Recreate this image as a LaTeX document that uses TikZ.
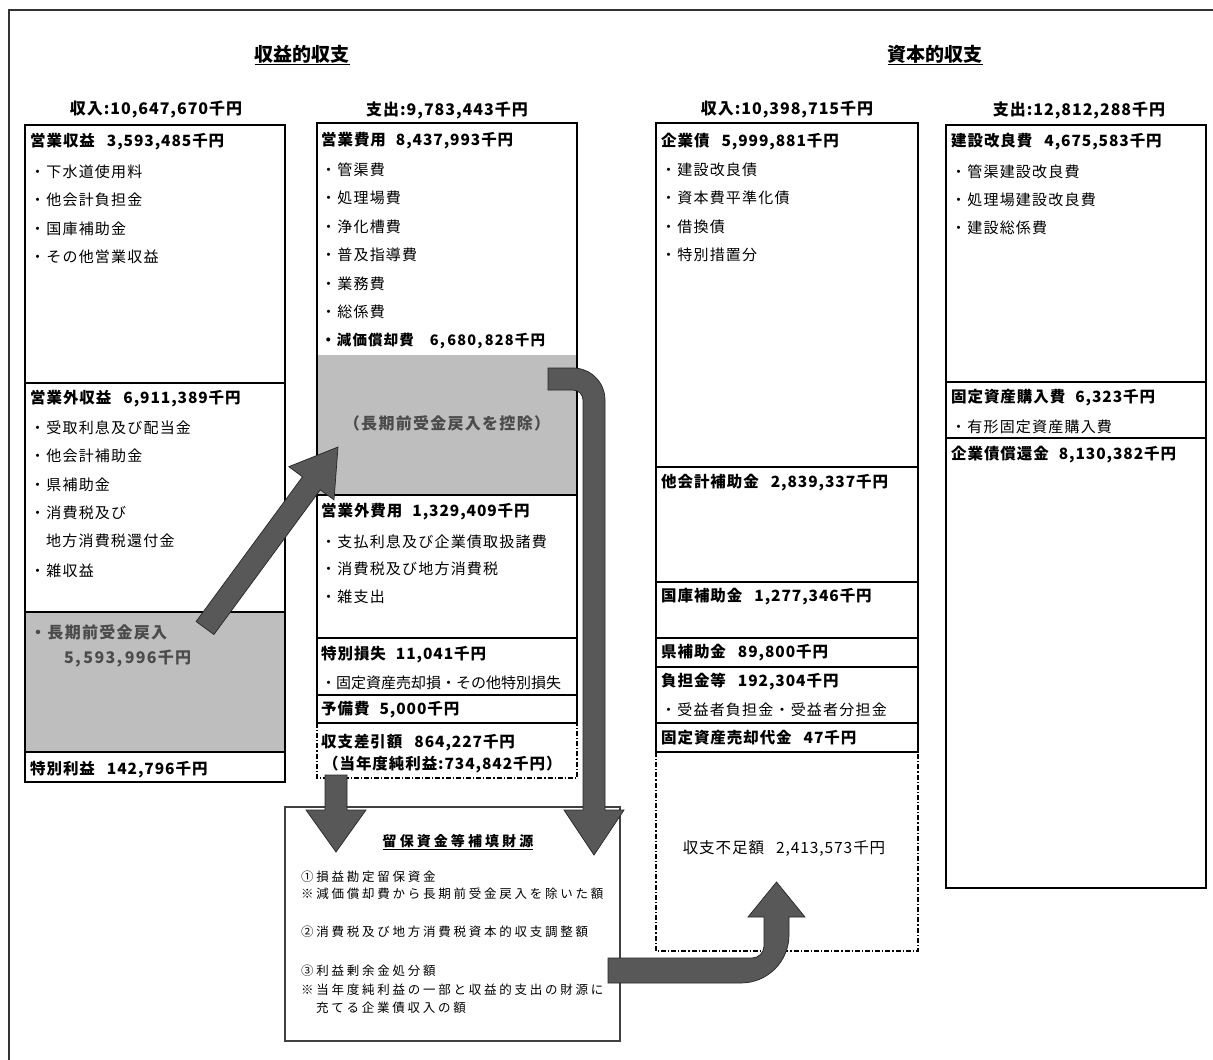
\documentclass[tikz,border=0pt]{standalone}
\usepackage{fontspec}
\setmainfont{Noto Sans CJK JP}
\newfontfamily\jp{Noto Sans CJK JP}
\newfontfamily\jpsp[LetterSpace=8]{Noto Sans CJK JP}
\newfontfamily\jphd[LetterSpace=6]{Noto Sans CJK JP}
\newfontfamily\jpwide[LetterSpace=22]{Noto Sans CJK JP}
\usetikzlibrary{calc}
\definecolor{shadegray}{RGB}{190,190,190}
\definecolor{arr}{RGB}{88,88,88}
\definecolor{shtext}{RGB}{75,75,75}
\begin{document}
\begin{tikzpicture}[x=1pt,y=-1pt,
  hd/.style={anchor=west, inner sep=0pt, font=\jphd\bfseries\fontsize{15.5}{17}\selectfont},
  it/.style={anchor=west, inner sep=0pt, font=\jpsp\fontsize{15}{16}\selectfont},
  colhead/.style={inner sep=0pt, font=\jphd\bfseries\fontsize{16}{18}\selectfont},
  maintitle/.style={inner sep=0pt, font=\jp\bfseries\fontsize{19}{21}\selectfont},
  note/.style={anchor=west, inner sep=0pt, font=\jpwide\fontsize{12.5}{14}\selectfont},
  shd/.style={inner sep=0pt, font=\jpsp\bfseries\fontsize{16}{18}\selectfont, text=shtext},
  box/.style={draw=black, line width=1.3pt},
  div/.style={draw=black, line width=1.1pt},
  dd/.style={draw=black, line width=1.1pt, dash pattern=on 5pt off 2pt on 1.2pt off 2pt},
  blk/.style={fill=arr, draw=black!85, line width=0.7pt},
]
\useasboundingbox (0,0) rectangle (1213,1060);
\fill[white] (0,0) rectangle (1213,1060);
% outer frame
\draw[line width=1.1pt, black!80] (9,1080) -- (9,10) -- (1230,10);

% titles
\node[maintitle] (t1) at (302,55) {\underline{収益的収支}};
\node[maintitle] (t2) at (935,55) {\underline{資本的収支}};

% column headers
\node[colhead] (h1) at (156,110) {収入:10,647,670千円};
\node[colhead] (h2) at (447,110) {支出:9,783,443千円};
\node[colhead] (h3) at (787,110) {収入:10,398,715千円};
\node[colhead] (h4) at (1079,110) {支出:12,812,288千円};

% shaded regions
\fill[shadegray] (25,612) rectangle (285,752);
\fill[shadegray] (317,355) rectangle (577,495);

% column 1
\draw[box] (25,125) rectangle (285,782);
\draw[div] (25,383) -- (285,383);
\draw[div] (25,612) -- (285,612);
\draw[div] (25,752) -- (285,752);
\node[hd] (a1) at (30,142) {営業収益\hspace{12pt}3,593,485千円};
\node[it] (a2) at (30,172) {・下水道使用料};
\node[it] (a3) at (30,200) {・他会計負担金};
\node[it] (a4) at (30,229) {・国庫補助金};
\node[it] (a5) at (30,257) {・その他営業収益};
\node[hd] (a6) at (30,399) {営業外収益\hspace{12pt}6,911,389千円};
\node[it] (a7) at (30,428) {・受取利息及び配当金};
\node[it] (a8) at (30,456) {・他会計補助金};
\node[it] (a9) at (30,485) {・県補助金};
\node[it] (a10) at (30,513) {・消費税及び};
\node[it] (a11) at (46,541) {地方消費税還付金};
\node[it] (a12) at (30,571) {・雑収益};
\node[shd, anchor=west] (a13) at (30,632) {・長期前受金戻入};
\node[shd, anchor=west] (a14) at (64,658) {5,\,593,\,996千円};
\node[hd] (a15) at (30,770) {特別利益\hspace{12pt}142,796千円};

% column 2
\draw[box] (317,123) rectangle (577,723);
\draw[div] (317,495) -- (577,495);
\draw[div] (317,638) -- (577,638);
\draw[div] (317,695) -- (577,695);
\draw[dd] (317,723) -- (317,778) -- (577,778) -- (577,723);
\node[hd] (b1) at (321,141) {営業費用\hspace{10pt}8,437,993千円};
\node[it] (b2) at (321,170) {・管渠費};
\node[it] (b3) at (321,198) {・処理場費};
\node[it] (b4) at (321,227) {・浄化槽費};
\node[it] (b5) at (321,255) {・普及指導費};
\node[it] (b6) at (321,284) {・業務費};
\node[it] (b7) at (321,312) {・総係費};
\node[it, font=\jpsp\bfseries\fontsize{14.5}{16}\selectfont] (b8) at (321,341) {・減価償却費\hspace{16pt}6,\,680,\,828千円};
\node[shd] (b9) at (447,423) {（長期前受金戻入を控除）};
\node[hd] (b10) at (321,512) {営業外費用\hspace{10pt}1,329,409千円};
\node[it] (b11) at (321,542) {・支払利息及び企業債取扱諸費};
\node[it] (b12) at (321,569) {・消費税及び地方消費税};
\node[it] (b13) at (321,597) {・雑支出};
\node[hd] (b14) at (321,655) {特別損失\hspace{10pt}11,041千円};
\node[it, font=\jp\fontsize{15}{16}\selectfont] (b15) at (321,683) {・固定資産売却損・その他特別損失};
\node[hd] (b16) at (321,710) {予備費\hspace{10pt}5,000千円};
\node[hd] (b17) at (321,743) {収支差引額\hspace{12pt}864,227千円};
\node[hd] (b18) at (323,765) {（当年度純利益:734,842千円）};

% column 3
\draw[box] (656,123) rectangle (918,752);
\draw[div] (656,467) -- (918,467);
\draw[div] (656,582) -- (918,582);
\draw[div] (656,638) -- (918,638);
\draw[div] (656,667) -- (918,667);
\draw[div] (656,723) -- (918,723);
\draw[dd] (656,752) -- (656,951) -- (918,951) -- (918,752);
\node[hd] (c1) at (661,142) {企業債\hspace{12pt}5,999,881千円};
\node[it] (c2) at (661,170) {・建設改良債};
\node[it] (c3) at (661,198) {・資本費平準化債};
\node[it] (c4) at (661,227) {・借換債};
\node[it] (c5) at (661,255) {・特別措置分};
\node[hd] (c6) at (661,483) {他会計補助金\hspace{12pt}2,839,337千円};
\node[hd] (c7) at (661,597) {国庫補助金\hspace{12pt}1,277,346千円};
\node[hd] (c8) at (661,653) {県補助金\hspace{12pt}89,800千円};
\node[hd] (c9) at (661,682) {負担金等\hspace{12pt}192,304千円};
\node[it] (c10) at (661,710) {・受益者負担金・受益者分担金};
\node[hd] (c11) at (661,738) {固定資産売却代金\hspace{12pt}47千円};
\node[inner sep=0pt, font=\jphd\fontsize{15.5}{17}\selectfont] (c12) at (784,848) {収支不足額\hspace{12pt}2,413,573千円};

% column 4
\draw[box] (946,125) rectangle (1206,888);
\draw[div] (946,382) -- (1206,382);
\draw[div] (946,438) -- (1206,438);
\node[hd] (d1) at (951,142) {建設改良費\hspace{12pt}4,675,583千円};
\node[it] (d2) at (951,172) {・管渠建設改良費};
\node[it] (d3) at (951,200) {・処理場建設改良費};
\node[it] (d4) at (951,228) {・建設総係費};
\node[hd] (d5) at (951,398) {固定資産購入費\hspace{10pt}6,323千円};
\node[it] (d6) at (951,427) {・有形固定資産購入費};
\node[hd] (d7) at (951,455) {企業債償還金\hspace{10pt}8,130,382千円};

% bottom box
\draw[draw=black!75, line width=1.8pt] (285,807) rectangle (620,1041);
\node[inner sep=0pt, font=\jpwide\bfseries\fontsize{14}{16}\selectfont] (e0) at (458,842) {\underline{留保資金等補填財源}};
\node[note] (e1) at (301,877) {①損益勘定留保資金};
\node[note] (e2) at (301,894) {※減価償却費から長期前受金戻入を除いた額};
\node[note] (e3) at (301,932) {②消費税及び地方消費税資本的収支調整額};
\node[note] (e4) at (301,971) {③利益剰余金処分額};
\node[note] (e5) at (301,990) {※当年度純利益の一部と収益的支出の財源に};
\node[note] (e6) at (301,1008) {\hspace{15pt}充てる企業債収入の額};

% arrows
\path[blk] (213.9,634.5) -- (320.3,489.8) -- (334.0,499.9) -- (338,447) -- (288.8,466.7) -- (302.5,476.8) -- (196.1,621.5) -- cycle;
\path[blk] (325,775) -- (347,775) -- (347,810) -- (366,810) -- (336,852) -- (306,810) -- (325,810) -- cycle;
\path[blk] (548,368) -- (573,368) .. controls (590.7,368) and (605,382.3) .. (605,400) -- (605,810) -- (624,810) -- (594,855) -- (564,810) -- (583,810) -- (583,400) .. controls (583,394.5) and (578.5,390) .. (573,390) -- (548,390) -- cycle;
\path[blk] (608,958) -- (752,958) .. controls (758.6,958) and (764,952.6) .. (764,946) -- (764,917) -- (748,917) -- (776.5,882) -- (805,917) -- (789,917) -- (789,935) .. controls (789,961.5) and (767.5,983) .. (741,983) -- (608,983) -- cycle;
\end{tikzpicture}
\end{document}
